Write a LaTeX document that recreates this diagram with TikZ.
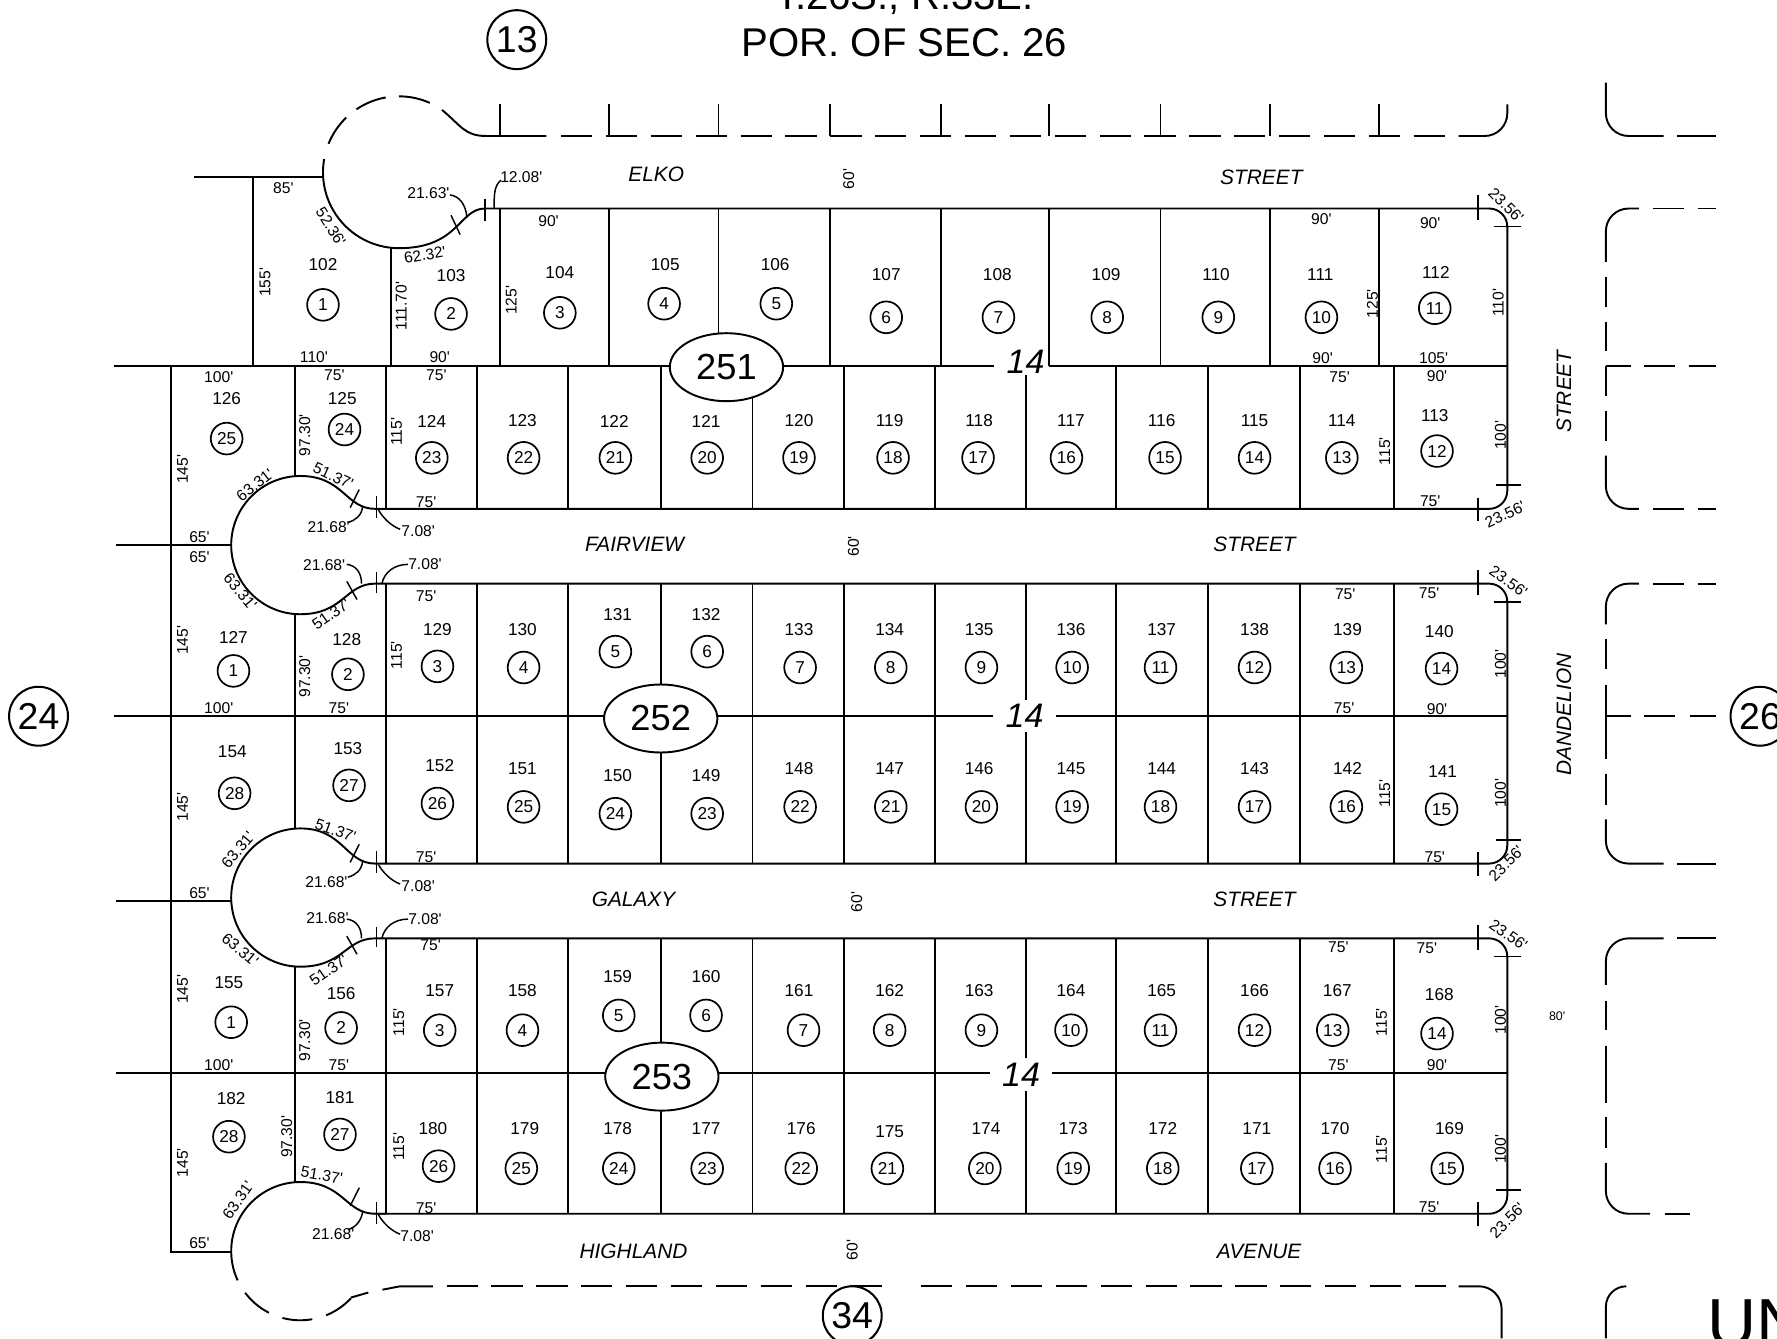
\documentclass[tikz,border=0pt]{standalone}
\usepackage{fontspec}
\usetikzlibrary{shapes.geometric}
\newfontfamily\plat{Liberation Sans}
\tikzset{
	lotline/.style = {line width=0.85pt},
	row/.style = {line width=0.85pt, dash pattern=on 13.8pt off 6pt},
	thin line/.style = {line width=0.65pt},
	lotno/.style = {inner sep=0pt, yshift=-0.25pt, font=\plat\fontsize{7.6}{9}\selectfont},
	dim/.style = {inner sep=0pt, font=\plat\fontsize{6.9}{8}\selectfont},
	parcel/.style = {draw, circle, line width=0.75pt, inner sep=0pt, minimum size=14pt, font=\plat\fontsize{7.6}{9}\selectfont},
	block/.style = {draw, ellipse, fill=white, line width=0.85pt, inner sep=0pt, minimum width=50pt, minimum height=30pt, font=\plat\fontsize{16}{18}\selectfont},
	pagecirc/.style = {draw, circle, line width=0.9pt, inner sep=0pt, minimum size=26pt, font=\plat\fontsize{16.5}{20}\selectfont},
	street/.style = {inner sep=0pt, yshift=-0.25pt, font=\plat\itshape\fontsize{9.2}{11}\selectfont},
	bignum/.style = {inner sep=0pt, font=\plat\itshape\fontsize{15}{17}\selectfont},
}
\begin{document}
\begin{tikzpicture}[x=0.5pt, y=-0.5pt]
	\clip (0,0) rectangle (1568,1181);

	\draw[lotline, rounded corners=8pt] (441,184) -- (1330,184) -- (1330,449) -- (331,449);
	\draw[lotline, rounded corners=8pt] (331,515) -- (1330,515) -- (1330,762) -- (331,762);
	\draw[lotline, rounded corners=8pt] (331,828) -- (1330,828) -- (1330,1071) -- (331,1071);
	\draw[lotline] (101,323) -- (877,323) (926,323) -- (1330,323);
	\draw[lotline] (101,632) -- (1330,632);
	\draw[lotline] (102,947) -- (1330,947);
	\draw[lotline] (171,156) -- (285,156);
	\draw[lotline] (102,481) -- (204,481);
	\draw[lotline] (102,795) -- (204,795);
	\draw[lotline] (151,323) -- (151,1105) -- (204,1105);
	\draw[lotline] (223,156) -- (223,323);
	\draw[lotline] (345,219) -- (345,323);
	\draw[lotline] (260,323) -- (260,420);
	\draw[lotline] (260,541) -- (260,731);
	\draw[lotline] (260,852) -- (260,1043);

	\foreach \vx in {441,537,634,732,830,926,1024,1121,1217} {
		\draw[lotline] (\vx,184) -- (\vx,323);
		\draw[lotline] (\vx,92) -- (\vx,120);
	}
	\foreach \vx in {341,421,501,583,664,745,825,905,985,1066,1147,1230} {
		\draw[lotline] (\vx,323) -- (\vx,449);
		\draw[lotline] (\vx,515) -- (\vx,762);
		\draw[lotline] (\vx,828) -- (\vx,1071);
	}

	\foreach \cy/\ta/\tb in {481/449/515, 792/762/828} {
		\draw[lotline] (331,\ta) .. controls (305,\ta) and (303,\cy-61) .. (265,\cy-61)
			arc[start angle=-90, end angle=-270, radius=61]
			.. controls (303,\cy+61) and (305,\tb) .. (331,\tb);
		\draw[thin line] (309,\ta-1) -- (317,\ta-17);
		\draw[thin line] (332,\ta-11) -- (332,\ta+8);
		\draw[thin line] (306,\tb-2) -- (315,\tb+14);
		\draw[thin line] (332,\tb-10) -- (332,\tb+8);
		\draw[thin line] (320,\ta-2) .. controls (319,\ta+6) and (314,\ta+10) .. (307,\ta+12);
		\draw[thin line] (334,\ta+1) .. controls (338,\ta+8) and (345,\ta+15) .. (353,\ta+18);
		\draw[thin line] (306,\tb-17) .. controls (314,\tb-16) and (319,\tb-10) .. (319,\tb);
		\draw[thin line] (337,\tb) .. controls (339,\tb-10) and (348,\tb-17) .. (360,\tb-17);
	}

	\draw[lotline] (341,1071) -- (331,1071) .. controls (305,1071) and (303,1043) .. (265,1043)
		arc[start angle=-90, end angle=-205, radius=61];
	\foreach \sa/\ea in {143/117, 105/80, 68/43} {
		\draw[lotline] (265,1104) ++(\sa:61) arc[start angle=\sa, end angle=\ea, radius=61];
	}
	\draw[lotline] (309.5,1145) -- (325,1140.5);
	\draw[lotline] (337.5,1138) -- (353,1135) -- (382,1135);
	\draw[row] (394,1135) -- (784,1135);
	\draw[row] (1276,1135) -- (812,1135);
	\draw[thin line] (309,1064) -- (317,1048);
	\draw[thin line] (332,1061) -- (332,1080);
	\draw[thin line] (320,1069) .. controls (319,1077) and (314,1083) .. (307,1085);
	\draw[thin line] (334,1072) .. controls (338,1079) and (345,1086) .. (353,1089);
	\draw[lotline, rounded corners=10pt] (1287,1135) -- (1325,1135) -- (1325,1181);

	\draw[lotline] (441,184) -- (428,184) .. controls (405,184) and (405,219) .. (352,219)
		arc[start angle=90, end angle=190, radius=67];
	\foreach \sa/\ea in {202/226, 236/260, 270/294} {
		\draw[lotline] (352,152) ++(\sa:67) arc[start angle=\sa, end angle=\ea, radius=67];
	}
	\draw[lotline] (390,97) .. controls (407,111) and (410,120) .. (429,120) -- (482,120);
	\draw[row] (495,120) -- (1276,120);
	\draw[lotline, rounded corners=10pt] (1287,120) -- (1330,120) -- (1330,92);
	\draw[thin line] (398,190) -- (406,207);
	\draw[thin line] (428,176) -- (428,195);
	\draw[thin line] (397,172) .. controls (405,173) and (411,180) .. (412,192);
	\draw[thin line] (436,184) .. controls (436,172) and (436,164) .. (442,159);

	\foreach \ty in {184,515,828} {
		\draw[thin line] (1304,\ty-12) -- (1304,\ty+10);
		\draw[thin line] (1318,\ty+16) -- (1342,\ty+16);
	}
	\foreach \ty in {449,762,1071} {
		\draw[thin line] (1304,\ty-10) -- (1304,\ty+11);
		\draw[thin line] (1320,\ty-21) -- (1342,\ty-21);
	}

	\draw[lotline, rounded corners=10pt] (1417,73) -- (1417,120) -- (1468,120);
	\draw[lotline, rounded corners=10pt] (1446,184) -- (1417,184) -- (1417,231);
	\draw[lotline, rounded corners=10pt] (1417,402) -- (1417,449) -- (1446,449);
	\draw[lotline, rounded corners=10pt] (1446,515) -- (1417,515) -- (1417,551);
	\draw[lotline, rounded corners=10pt] (1417,723) -- (1417,762) -- (1468,762);
	\draw[lotline, rounded corners=10pt] (1468,828) -- (1417,828) -- (1417,869);
	\draw[lotline, rounded corners=10pt] (1417,1026) -- (1417,1071) -- (1456,1071);
	\draw[lotline, rounded corners=9pt] (1435,1135) -- (1417,1135) -- (1417,1181);
	\foreach \ya/\yb in {244/271, 284/310, 323/349, 363/389, 564/590, 604/632, 632/670, 683/710, 883/909, 923/973, 986/1013} {
		\draw[lotline] (1417,\ya) -- (1417,\yb);
	}
	\foreach \xa/\xb/\yy in {1480/1514/120, 1459/1486/184, 1498/1514/184, 1417/1439/323, 1451/1478/323, 1490/1514/323,
		1459/1486/449, 1498/1514/449, 1459/1486/515, 1498/1514/515, 1417/1439/632, 1451/1478/632, 1491/1514/632,
		1480/1514/762, 1480/1514/828, 1469/1491/1071} {
		\draw[lotline] (\xa,\yy) -- (\xb,\yy);
	}

	\foreach \lot/\tx/\ty/\cnum/\cx/\cy in {
		102/285/233/1/285/269, 103/398/243/2/398/277, 104/494/240/3/494/276, 105/587/233/4/586/268,
		106/684/233/5/685/268, 107/782/242/6/782/280, 108/880/242/7/881/280, 109/976/242/8/977/280,
		110/1073/242/9/1075/280, 111/1165/242/10/1166/280, 112/1267/240/11/1266/272,
		126/200/351/25/200/387, 125/302/351/24/304/379, 124/381/371/23/381/404, 123/461/371/22/462/404,
		122/542/371/21/543/404, 121/623/371/20/624/404, 120/705/371/19/705/404, 119/785/371/18/788/404,
		118/864/371/17/863/404, 117/945/371/16/941/404, 116/1025/371/15/1028/404, 115/1107/371/14/1107/404,
		114/1184/371/13/1184/404, 113/1266/366/12/1268/398,
		127/206/562/1/206/592, 128/306/564/2/307/595, 129/386/555/3/386/588, 130/461/555/4/462/589,
		131/545/542/5/543/575, 132/623/542/6/624/575, 133/705/555/7/706/589, 134/785/555/8/786/589,
		135/864/555/9/866/589, 136/945/555/10/946/589, 137/1025/555/11/1024/589, 138/1107/555/12/1107/589,
		139/1189/555/13/1188/589, 140/1270/557/14/1272/590,
		154/205/663/28/207/700, 153/307/660/27/308/693, 152/388/675/26/386/709, 151/461/678/25/462/712,
		150/545/684/24/543/718, 149/623/684/23/624/718, 148/705/678/22/706/712, 147/785/678/21/786/712,
		146/864/678/20/866/712, 145/945/678/19/946/712, 144/1025/678/18/1024/712, 143/1107/678/17/1107/712,
		142/1189/678/16/1188/712, 141/1273/680/15/1272/714,
		155/202/867/1/204/902, 156/301/876/2/301/907, 157/388/874/3/388/909, 158/461/874/4/461/909,
		159/545/861/5/546/896, 160/623/861/6/623/896, 161/705/874/7/709/909, 162/785/874/8/785/909,
		163/864/874/9/866/909, 164/945/874/10/945/909, 165/1025/874/11/1024/909, 166/1107/874/12/1107/909,
		167/1180/874/13/1176/909, 168/1270/877/14/1268/912,
		182/204/969/28/202/1003, 181/300/968/27/300/1001, 180/382/995/26/387/1029, 179/463/995/25/460/1031,
		178/545/995/24/546/1031, 177/623/995/23/624/1031, 176/707/995/22/707/1031, 175/785/998/21/783/1031,
		174/870/995/20/869/1031, 173/947/995/19/947/1031, 172/1026/995/18/1026/1031, 171/1109/995/17/1109/1031,
		170/1178/995/16/1178/1031, 169/1279/995/15/1277/1031} {
		\node[lotno] (lot\lot) at (\tx,\ty) {\lot};
		\node[parcel] (par\lot) at (\cx,\cy) {\cnum};
	}

	\foreach \dtxt/\dx/\dy/\ang [count=\i] in {
		85'/250/166/0, 90'/484/195/0, 90'/1166/193/0, 90'/1262/197/0, 110'/277/315/0, 90'/388/315/0,
		90'/1167/316/0, 105'/1265/316/0, 100'/193/333/0, 75'/295/331/0, 75'/385/331/0, 75'/1182/333/0,
		90'/1268/332/0, 75'/376/443/0, 75'/1262/442/0, 65'/176/474/0, 65'/176/492/0, 75'/376/526/0,
		75'/1187/524/0, 75'/1261/523/0, 100'/193/625/0, 75'/299/625/0, 75'/1186/625/0, 90'/1268/626/0,
		75'/376/756/0, 75'/1266/756/0, 65'/176/788/0, 75'/380/834/0, 75'/1181/836/0, 75'/1259/837/0,
		100'/193/940/0, 75'/299/940/0, 75'/1181/940/0, 90'/1268/940/0, 75'/376/1066/0, 75'/1261/1065/0,
		65'/176/1097/0, 12.08'/460/156/0, 21.63'/378/170/0,
		21.68'/290/465/0, 7.08'/369/469/0, 21.68'/286/499/0, 7.08'/375/498/0, 21.68'/288/778/0,
		7.08'/369/782/0, 21.68'/289/810/0, 7.08'/375/811/0, 21.68'/294/1089/0, 7.08'/368/1091/0,
		155'/234/249/90, 111.70'/354/270/90, 125'/451/265/90, 125'/1211/268/90, 110'/1322/267/90,
		145'/161/414/90, 97.30'/269/384/90, 115'/350/381/90, 115'/1222/398/90, 100'/1324/384/90,
		145'/161/565/90, 97.30'/269/597/90, 115'/350/578/90, 100'/1324/586/90, 145'/161/712/90,
		115'/1222/700/90, 100'/1324/700/90, 145'/161/873/90, 97.30'/269/918/90, 115'/352/902/90,
		115'/1219/902/90, 100'/1324/900/90, 145'/161/1026/90, 97.30'/253/1003/90, 115'/352/1012/90,
		115'/1219/1014/90, 100'/1324/1014/90, 60'/749/158/90, 60'/753/482/90, 60'/756/796/90, 60'/752/1103/90,
		52.36'/292/200/-58, 62.32'/375/225/10, 63.31'/225/428/38, 51.37'/294/420/-25, 63.31'/212/522/-50,
		51.37'/292/542/35, 63.31'/210/750/50, 51.37'/296/733/-20, 63.31'/212/838/-40, 51.37'/290/856/35,
		63.31'/210/1059/55, 51.37'/284/1037/-10, 23.56'/1329/181/-45, 23.56'/1328/454/25, 23.56'/1331/513/-35,
		23.56'/1329/762/45, 23.56'/1331/825/-35, 23.56'/1330/1077/45} {
		\node[dim, rotate=\ang] (dim\i) at (\dx,\dy) {\dtxt};
	}
	\node[dim, font=\plat\fontsize{5.5}{7}\selectfont] (wide) at (1374,897) {80'};

	\node[street] (elko) at (579,153) {ELKO};
	\node[street] (elkost) at (1113,156) {STREET};
	\node[street] (fairview) at (560,480) {FAIRVIEW};
	\node[street] (fairviewst) at (1107,480) {STREET};
	\node[street] (galaxy) at (559,793) {GALAXY};
	\node[street] (galaxyst) at (1107,793) {STREET};
	\node[street] (highland) at (559,1104) {HIGHLAND};
	\node[street] (avenue) at (1111,1104) {AVENUE};
	\node[street, rotate=90] (dandst) at (1380,345) {STREET};
	\node[street, rotate=90] (dandelion) at (1380,630) {DANDELION};

	\node[block] (b251) at (641,324) {251};
	\node[block] (b252) at (583,634) {252};
	\node[block] (b253) at (584,950) {253};
	\node[bignum, fill=white, inner xsep=1pt, inner ysep=1pt] (n251) at (905,319) {14};
	\node[bignum, fill=white, inner xsep=5.5pt, inner ysep=2pt] (n252) at (904,632) {14};
	\node[bignum, fill=white, inner xsep=5.5pt, inner ysep=2pt] (n253) at (901,948) {14};

	\node[pagecirc] (p13) at (456,35) {13};
	\node[pagecirc] (p24) at (34,632) {24};
	\node[pagecirc] (p26) at (1553,632) {26};
	\node[pagecirc] (p34) at (752,1161) {34};

	\node[inner sep=0pt, font=\plat\fontsize{17.7}{20}\selectfont] (twp) at (798,-2) {T.26S., R.33E.};
	\node[inner sep=0pt, font=\plat\fontsize{17.7}{20}\selectfont] (sec) at (798,38) {POR. OF SEC. 26};
	\node[inner sep=0pt, anchor=base west, font=\plat\fontsize{30}{34}\selectfont] (un) at (1506,1188) {UN};
\end{tikzpicture}
\end{document}
